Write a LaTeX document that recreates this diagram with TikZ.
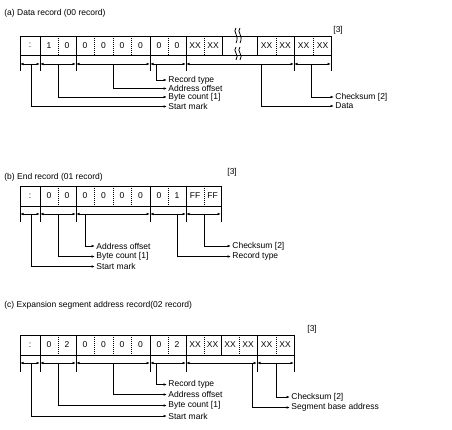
\documentclass[tikz,border=0pt]{standalone}
\usepackage{fontspec}
\setmainfont{Liberation Sans}
\usetikzlibrary{positioning}
\usetikzlibrary{arrows.meta}

\begin{document}
\begin{tikzpicture}[x=1pt,y=-1pt,line width=0.8pt,>={Latex[length=3.5pt,width=2.6pt]},
    font=\fontsize{8.5}{9}\selectfont,
    lbl/.style={anchor=west,inner sep=1pt},
    ttl/.style={anchor=west,inner sep=0pt},
    sep/.style={dash pattern=on 1pt off 1pt}]
  \useasboundingbox (0,0) rectangle (452,430);

  % (a) data record
  \node (ta) [ttl] at (4,13) {(a) Data record (00 record)};
  \node (na) [ttl] at (333,30) {[3]};
  \draw (20,36) rectangle (331,55);
  \foreach \x in {40,76,150,186,222,257,294} \draw (\x,36) -- (\x,55);
  \foreach \x in {58,94,113,131,168,204,276,313} \draw[sep] (\x,36) -- (\x,55);
  \foreach \x/\t [count=\i] in {30/:,49/1,67/0,85/0,103.5/0,122/0,140.5/0,159/0,177/0,
      195/XX,213/XX,266.5/XX,285/XX,303.5/XX,322.5/XX}
    \node (ca\i) at (\x,45.5) {\t};
  \foreach \s in {0,4} {
    \draw[xshift=\s] (236,28) .. controls (232,32) and (240,35) .. (236,43);
    \draw[xshift=\s] (236,47) .. controls (232,51) and (240,55) .. (236,60);
  }
  \foreach \x in {20,40,76,150,186,294,331} {
    \draw (\x,55) -- (\x,71);
    \coordinate (ka\x) at (\x,64);
  }
  \foreach \a/\b in {20/40,40/76,76/150,150/186,186/294,294/331}
    \draw[<->] (ka\a) -- (ka\b);

  \coordinate (ra) at (156,64);
  \coordinate (oa) at (113,64);
  \coordinate (ba) at (58,64);
  \coordinate (sa) at (31,64);
  \coordinate (da) at (261,64);
  \coordinate (xa) at (311,64);
  \node (lra) [lbl] at (167,80) {Record type};
  \node (loa) [lbl] at (167,88.5) {Address offset};
  \node (lba) [lbl] at (167,97) {Byte count [1]};
  \node (lsa) [lbl] at (167,106.5) {Start mark};
  \node (lxa) [lbl] at (334,97) {Checksum [2]};
  \node (lda) [lbl] at (334,106) {Data};
  \draw[->] (ra) |- (lra);
  \draw[->] (oa) |- (loa);
  \draw[->] (ba) |- (lba);
  \draw[->] (sa) |- (lsa);
  \draw[->] (xa) |- (lxa);
  \draw[->] (da) |- (lda);

  % (b) end record
  \node (tb) [ttl] at (4,177) {(b) End record (01 record)};
  \node (nb) [ttl] at (227,172) {[3]};
  \draw (20,186) rectangle (221,206);
  \foreach \x in {40,76,150,186} \draw (\x,186) -- (\x,206);
  \foreach \x in {58,94,113,131,168,204} \draw[sep] (\x,186) -- (\x,206);
  \foreach \x/\t [count=\i] in {30/:,49/0,67/0,85/0,103.5/0,122/0,140.5/0,159/0,177/1,
      195/FF,212.5/FF}
    \node (cb\i) at (\x,196) {\t};
  \foreach \x in {20,40,76,150,186,221} {
    \draw (\x,206) -- (\x,222);
    \coordinate (kb\x) at (\x,214);
  }
  \foreach \a/\b in {20/40,40/76,76/150,150/186,186/221}
    \draw[<->] (kb\a) -- (kb\b);

  \coordinate (ob) at (85,214);
  \coordinate (bb) at (58,214);
  \coordinate (sb) at (31,214);
  \coordinate (xb) at (204,214);
  \coordinate (rb) at (177,214);
  \node (lob) [lbl] at (95,246) {Address offset};
  \node (lbb) [lbl] at (95,256.5) {Byte count [1]};
  \node (lsb) [lbl] at (95,266.5) {Start mark};
  \node (lxb) [lbl] at (231,246) {Checksum [2]};
  \node (lrb) [lbl] at (231,256.5) {Record type};
  \draw[->] (ob) |- (lob);
  \draw[->] (bb) |- (lbb);
  \draw[->] (sb) |- (lsb);
  \draw[->] (xb) |- (lxb);
  \draw[->] (rb) |- (lrb);

  % (c) expansion segment address record
  \node (tc) [ttl] at (4,305) {(c) Expansion segment address record(02 record)};
  \node (nc) [ttl] at (307,329) {[3]};
  \draw (20,335) rectangle (294,355);
  \foreach \x in {40,76,150,186,221,257} \draw (\x,335) -- (\x,355);
  \foreach \x in {58,94,113,131,168,204,239,276} \draw[sep] (\x,335) -- (\x,355);
  \foreach \x/\t [count=\i] in {30/:,49/0,67/2,85/0,103.5/0,122/0,140.5/0,159/0,177/2,
      195/XX,212.5/XX,230/XX,248/XX,266.5/XX,285/XX}
    \node (cc\i) at (\x,345) {\t};
  \foreach \x in {20,40,76,150,186,257,294} {
    \draw (\x,355) -- (\x,372);
    \coordinate (kc\x) at (\x,363);
  }
  \foreach \a/\b in {20/40,40/76,76/150,150/186,186/257,257/294}
    \draw[<->] (kc\a) -- (kc\b);

  \coordinate (rc) at (156,363);
  \coordinate (oc) at (113,363);
  \coordinate (bc) at (58,363);
  \coordinate (sc) at (31,363);
  \coordinate (xc) at (276,363);
  \coordinate (gc) at (252,363);
  \node (lrc) [lbl] at (167,384.5) {Record type};
  \node (loc) [lbl] at (167,394.5) {Address offset};
  \node (lbc) [lbl] at (167,405.5) {Byte count [1]};
  \node (lsc) [lbl] at (167,416) {Start mark};
  \node (lxc) [lbl] at (290,397) {Checksum [2]};
  \node (lgc) [lbl] at (290,407.5) {Segment base address};
  \draw[->] (rc) |- (lrc);
  \draw[->] (oc) |- (loc);
  \draw[->] (bc) |- (lbc);
  \draw[->] (sc) |- (lsc);
  \draw[->] (xc) |- (lxc);
  \draw[->] (gc) |- (lgc);
\end{tikzpicture}
\end{document}
